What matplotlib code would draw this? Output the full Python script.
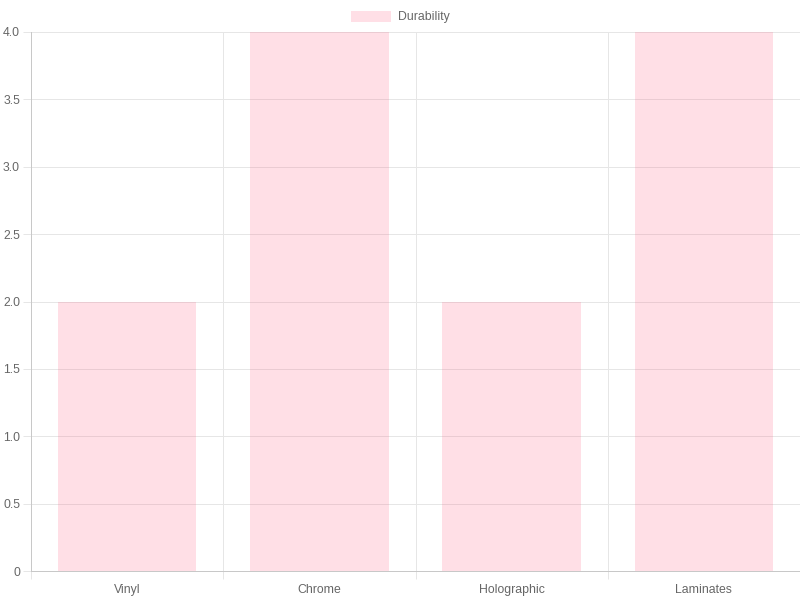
import numpy as np
import matplotlib.pyplot as plt
from matplotlib.patches import Patch

plt.rcParams['font.family'] = ['Liberation Sans', 'DejaVu Sans']

# Chart data
categories = ['Vinyl', 'Chrome', 'Holographic', 'Laminates']
durability = [2, 4, 2, 4]
y_ticks = [0, 0.5, 1.0, 1.5, 2.0, 2.5, 3.0, 3.5, 4.0]
y_tick_labels = ['0', '0.5', '1.0', '1.5', '2.0', '2.5', '3.0', '3.5', '4.0']

BAR_COLOR = (1.0, 99 / 255, 132 / 255, 0.2)
GRID_COLOR = '#e6e6e6'
AXIS_COLOR = '#c8c8c8'
TEXT_COLOR = '#666666'
PX = 72 / 100  # points per pixel at dpi 100

fig = plt.figure(figsize=(8, 6), dpi=100)
ax = fig.add_axes([31 / 800, 29 / 600, 769 / 800, 539 / 600])

x = np.arange(len(categories))
ax.bar(x, durability, width=0.72, color=BAR_COLOR, zorder=2)

ax.set_xlim(-0.5, len(categories) - 0.5)
ax.set_ylim(0, 4)

# y axis
ax.set_yticks(y_ticks)
ax.set_yticklabels(y_tick_labels)
ax.tick_params(axis='y', length=8 * PX, width=PX, color=GRID_COLOR, pad=3 * PX,
               labelsize=12.2 * PX, labelcolor=TEXT_COLOR)
ax.yaxis.grid(True, color=GRID_COLOR, linewidth=PX, zorder=0)

# x axis: labels at centers, grid lines at category boundaries
ax.set_xticks(x)
ax.set_xticklabels(categories)
ax.set_xticks(np.arange(len(categories) + 1) - 0.5, minor=True)
ax.tick_params(axis='x', which='major', length=0, pad=13 * PX,
               labelsize=12.2 * PX, labelcolor=TEXT_COLOR)
ax.tick_params(axis='x', which='minor', length=8 * PX, width=PX, color=GRID_COLOR)
ax.xaxis.grid(True, which='minor', color=GRID_COLOR, linewidth=PX, zorder=0)

for side in ['top', 'right']:
    ax.spines[side].set_visible(False)
for side in ['left', 'bottom']:
    ax.spines[side].set_color(AXIS_COLOR)
    ax.spines[side].set_linewidth(PX)

# legend
handle = Patch(facecolor=BAR_COLOR, edgecolor='none', label='Durability')
fig.legend(handles=[handle], loc='center', bbox_to_anchor=(400 / 800, 1 - 17 / 600),
           frameon=False, fontsize=12.2 * PX, labelcolor=TEXT_COLOR,
           handlelength=40 / 12, handleheight=1.0, handletextpad=0.5, borderpad=0)

fig.savefig('out.png', dpi=100)
